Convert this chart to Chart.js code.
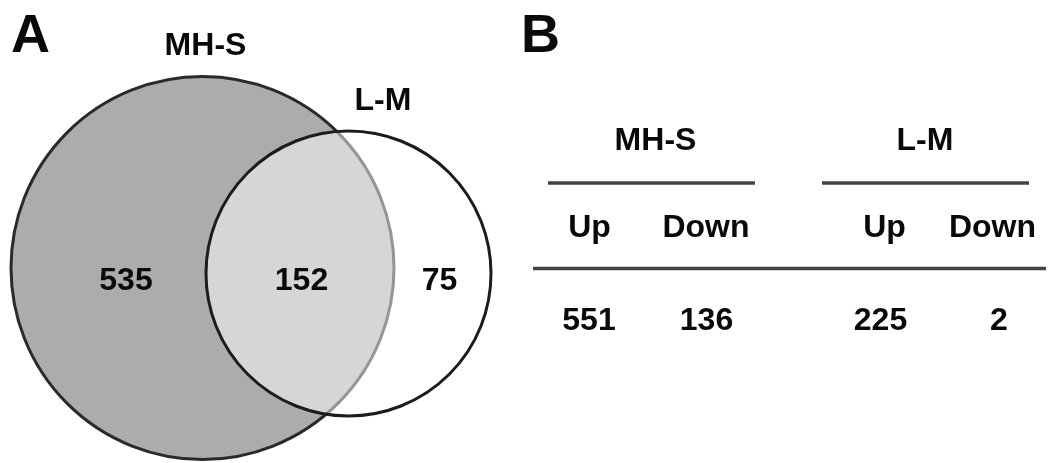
<!DOCTYPE html>
<html>
<head>
<meta charset="utf-8">
<script src="https://cdn.jsdelivr.net/npm/chart.js@4.4.1/dist/chart.umd.min.js"></script>
<style>
  html, body { margin: 0; padding: 0; background: #ffffff; }
  #wrap { width: 1048px; height: 463px; }
</style>
</head>
<body>
<div id="wrap"><canvas id="c" width="1048" height="463"></canvas></div>
<script>
// ---- Data ----
const setNames = ['MH-S', 'L-M'];
const regionCounts = [535, 152, 75];          // MH-S only, both, L-M only
const tableGroups = ['MH-S', 'L-M'];
const tableColumns = ['Up', 'Down', 'Up', 'Down'];
const tableValues = [551, 136, 225, 2];

// ---- Layout (in chart units, x 0..1048, y 0..463) ----
const circleGeom = [
  { x: 202.5, y: 268, rad: 191.5 },   // MH-S
  { x: 348.5, y: 273.5, rad: 142.5 }  // L-M
];
const regionPos = [ { x: 126, y: 278 }, { x: 301.5, y: 278 }, { x: 439.5, y: 278 } ];
const setLabelPos = [ { x: 205.5, y: 55 }, { x: 383, y: 110 } ];
const panelLabels = [ { t: 'A', x: 11, y: 52 }, { t: 'B', x: 521, y: 52 } ];
const groupPos = [ { x: 655.5, y: 150, x0: 548, x1: 755 }, { x: 925, y: 150, x0: 822, x1: 1029 } ];
const colX = [589.5, 706, 884.5, 992.5];
const valX = [589, 706.5, 880.5, 999];

const FONT = '"Liberation Sans", Arial, sans-serif';
const INK = '#0a0a0a';

function radPx(ctx) {
  const s = ctx.chart.scales.x;
  if (!s || !ctx.raw) return 0;
  return Math.abs(s.getPixelForValue(ctx.raw.x + ctx.raw.rad) - s.getPixelForValue(ctx.raw.x));
}

const textPlugin = {
  id: 'vennText',
  afterDatasetsDraw(chart) {
    const c = chart.ctx, xs = chart.scales.x, ys = chart.scales.y;
    const X = v => xs.getPixelForValue(v), Y = v => ys.getPixelForValue(v);
    c.save();
    c.fillStyle = INK;
    c.textBaseline = 'alphabetic';
    // panel letters
    c.font = 'bold 54px ' + FONT;
    c.textAlign = 'left';
    panelLabels.forEach(p => c.fillText(p.t, X(p.x), Y(p.y)));
    // set labels
    c.font = 'bold 32px ' + FONT;
    c.textAlign = 'center';
    setNames.forEach((n, i) => c.fillText(n, X(setLabelPos[i].x), Y(setLabelPos[i].y)));
    // region counts from the hidden count dataset
    const meta = chart.getDatasetMeta(2);
    meta.data.forEach((pt, i) => {
      c.fillText(String(regionCounts[i]), pt.x, pt.y + 12);
    });
    // table
    tableGroups.forEach((g, i) => {
      const gp = groupPos[i];
      c.fillText(g, X(gp.x), Y(gp.y));
    });
    c.strokeStyle = '#444444';
    c.lineWidth = 3.5;
    groupPos.forEach(gp => {
      c.beginPath(); c.moveTo(X(gp.x0), Y(183)); c.lineTo(X(gp.x1), Y(183)); c.stroke();
    });
    tableColumns.forEach((t, i) => c.fillText(t, X(colX[i]), Y(237)));
    c.beginPath(); c.moveTo(X(533), Y(268.5)); c.lineTo(X(1046), Y(268.5)); c.stroke();
    tableValues.forEach((v, i) => c.fillText(String(v), X(valX[i]), Y(330)));
    c.restore();
  }
};

new Chart(document.getElementById('c'), {
  type: 'scatter',
  data: {
    datasets: [
      {
        label: setNames[1],
        data: [circleGeom[1]],
        order: 0,
        pointRadius: radPx,
        pointHoverRadius: radPx,
        backgroundColor: 'rgba(255,255,255,0.5)',
        borderColor: '#1c1c1c',
        pointBorderWidth: 3,
        pointHoverBorderWidth: 3,
        clip: false
      },
      {
        label: setNames[0],
        data: [circleGeom[0]],
        order: 1,
        pointRadius: radPx,
        pointHoverRadius: radPx,
        backgroundColor: '#acacac',
        borderColor: '#2a2a2a',
        pointBorderWidth: 3,
        pointHoverBorderWidth: 3,
        clip: false
      },
      {
        label: 'counts',
        data: regionPos.map((p, i) => ({ x: p.x, y: p.y, v: regionCounts[i] })),
        order: 2,
        pointRadius: 0,
        pointHoverRadius: 0,
        clip: false
      }
    ]
  },
  options: {
    responsive: false,
    animation: false,
    events: [],
    layout: { padding: 0 },
    plugins: { legend: { display: false }, tooltip: { enabled: false } },
    scales: {
      x: { type: 'linear', min: 0, max: 1048, display: false },
      y: { type: 'linear', min: 0, max: 463, reverse: true, display: false }
    }
  },
  plugins: [textPlugin]
});
</script>
</body>
</html>
